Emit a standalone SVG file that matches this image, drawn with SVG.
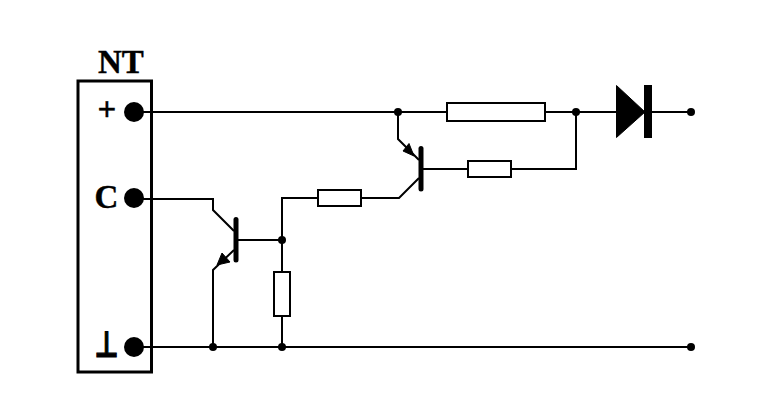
<svg xmlns="http://www.w3.org/2000/svg" width="773" height="414" viewBox="0 0 773 414">
<style>
.w{fill:none;stroke:#000;stroke-width:2}
.r{fill:#fff;stroke:#000;stroke-width:2}
.d{fill:#000}
.a{fill:#000;stroke:#000;stroke-width:1;stroke-linejoin:round}
.b{stroke:#000;stroke-width:5;stroke-linecap:round;fill:none}
.t{font-family:"Liberation Serif","Times New Roman",serif;font-weight:bold;font-size:33px;fill:#000;stroke:#000;stroke-width:.4}
</style>
<rect width="773" height="414" fill="#fff"/>
<g id="connectors">
<path class="w" d="M134 112H447M545 112H616M652 112H691"/>
<path class="w" d="M398 112V139L419 160"/>
<path class="w" d="M134 199H213V210L234 231"/>
<path class="w" d="M234 250L213 270V347"/>
<path class="w" d="M236 240H282M282 347V198H318M361 198H399L419 178"/>
<path class="w" d="M421 169H468M511 169H576V112"/>
<path class="w" d="M134 347H691"/>
</g>
<g id="terminal-block">
<rect x="78" y="81" width="73.500" height="291" fill="none" stroke="#000" stroke-width="3"/>
<text class="t" x="98" y="73">NT</text>
<text class="t" x="97.500" y="120">+</text>
<text class="t" x="94.500" y="208">C</text>
<text transform="translate(106.500 356.500) scale(.88 1.2)" text-anchor="middle" style="font-family:'DejaVu Sans',sans-serif;font-weight:bold;font-size:30px;stroke:#000;stroke-width:1">⊥</text>
<circle class="d" cx="134" cy="112" r="10"/>
<circle class="d" cx="134" cy="198" r="10"/>
<circle class="d" cx="134" cy="347" r="10"/>
</g>
<g id="transistor-q1">
<path class="b" d="M421 148.500V189"/>
<polygon class="a" points="409,143.500 403,151 414,156"/>
</g>
<g id="transistor-q2">
<path class="b" d="M236 219.500V260"/>
<polygon class="a" points="222,253 217,265 230,262"/>
</g>
<g id="resistor-r1"><rect class="r" x="447" y="103" width="98" height="18"/></g>
<g id="resistor-r2"><rect class="r" x="468" y="161" width="43" height="16"/></g>
<g id="resistor-r3"><rect class="r" x="318" y="190" width="43" height="16"/></g>
<g id="resistor-r4"><rect class="r" x="274" y="272" width="16" height="44"/></g>
<g id="diode">
<polygon class="a" points="616.500,85.500 645,112 616.500,137.500"/>
<rect class="d" x="644" y="85" width="8" height="53"/>
</g>
<g id="junctions">
<circle class="d" cx="398" cy="112" r="4"/>
<circle class="d" cx="576" cy="112" r="4"/>
<circle class="d" cx="691" cy="112" r="4"/>
<circle class="d" cx="282" cy="240" r="4"/>
<circle class="d" cx="213" cy="347" r="4"/>
<circle class="d" cx="282" cy="347" r="4"/>
<circle class="d" cx="691" cy="347" r="4"/>
</g>
</svg>
